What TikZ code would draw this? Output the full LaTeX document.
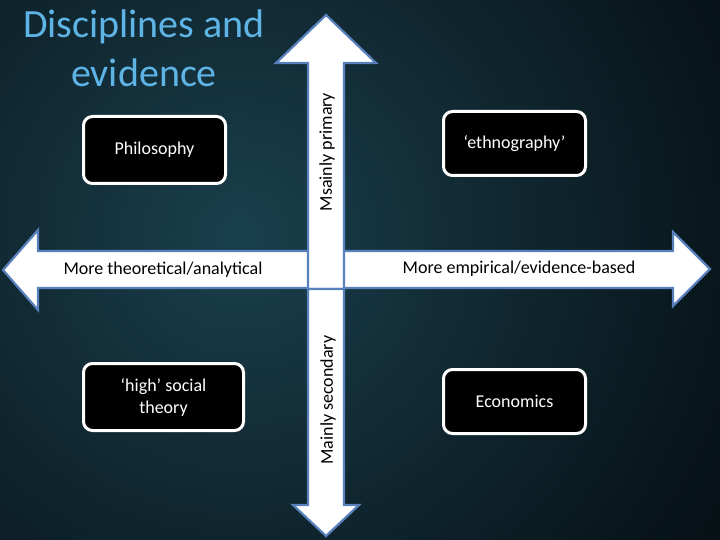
\documentclass[tikz,border=0pt]{standalone}
\usepackage{fontspec}
\setmainfont{Carlito}
\definecolor{arrowblue}{RGB}{88,128,188}
\definecolor{titleblue}{RGB}{95,180,230}
\pgfdeclareradialshading{bgglow}{\pgfpoint{0bp}{0bp}}{rgb(0bp)=(0.10,0.25,0.30); rgb(8bp)=(0.07,0.17,0.21); rgb(18bp)=(0.03,0.08,0.10); rgb(28bp)=(0.01,0.03,0.05); rgb(50bp)=(0.0,0.01,0.03)}
\tikzset{
  arrowshape/.style={fill=white, draw=arrowblue, line width=2.2pt, line join=miter},
  discbox/.style={draw=white, fill=black, line width=3pt, rounded corners=9pt, text=white, align=center, font=\fontsize{18}{22}\selectfont, inner sep=0pt},
  arrowtext/.style={text=black, font=\fontsize{18}{22}\selectfont, inner sep=0pt}
}
\begin{document}
\begin{tikzpicture}[x=1pt,y=-1pt]
\useasboundingbox (0,0) rectangle (720,540);
\begin{scope}
\clip (0,0) rectangle (720,540);
\fill[black] (0,0) rectangle (720,540);
\fill[shading=bgglow] (240,235) circle (700);
\end{scope}
% horizontal double arrow
\draw[arrowshape] (3,270) -- (38,230) -- (38,251) -- (673,251) -- (673,232) -- (710,269) -- (673,306) -- (673,288) -- (38,288) -- (38,310) -- cycle;
% up arrow
\draw[arrowshape] (326,15) -- (376,63) -- (344,63) -- (344,289) -- (308,289) -- (308,63) -- (276,63) -- cycle;
% down arrow
\draw[arrowshape] (308,289) -- (344,289) -- (344,505) -- (359,505) -- (326,536) -- (293,505) -- (308,505) -- cycle;
% arrow labels
\node[arrowtext] (theo) at (163,270) {More theoretical/analytical};
\node[arrowtext] (emp) at (519,269) {More empirical/evidence-based};
\node[arrowtext, rotate=90] (prim) at (327,152) {Msainly primary};
\node[arrowtext, rotate=90] (sec) at (328,400) {Mainly secondary};
% title
\node[text=titleblue, align=center, font=\fontsize{40}{49}\selectfont, inner sep=0pt] (title) at (144,48) {Disciplines and\\evidence};
% boxes
\node[discbox, minimum width=142pt, minimum height=67pt] (phil) at (154.5,150) {Philosophy};
\node[discbox, minimum width=142pt, minimum height=64pt] (ethno) at (514.5,143.5) {‘ethnography’};
\node[discbox, minimum width=160pt, minimum height=67pt] (high) at (163.5,397) {‘high’ social\\theory};
\node[discbox, minimum width=142pt, minimum height=64pt] (econ) at (514.5,401.5) {Economics};
\end{tikzpicture}
\end{document}
